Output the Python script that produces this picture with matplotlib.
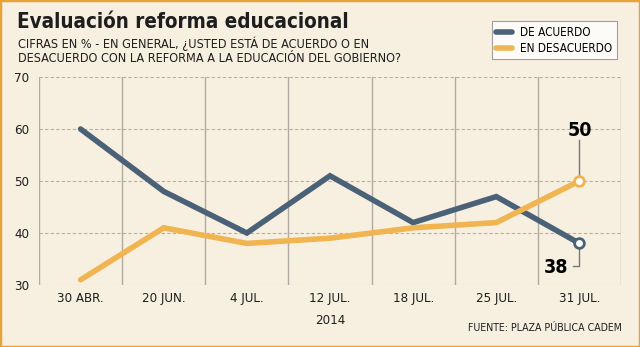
import matplotlib.pyplot as plt
from matplotlib.patches import Rectangle

fechas = ['30 ABR.', '20 JUN.', '4 JUL.', '12 JUL.', '18 JUL.', '25 JUL.', '31 JUL.']
de_acuerdo = [60, 48, 40, 51, 42, 47, 38]
en_desacuerdo = [31, 41, 38, 39, 41, 42, 50]
y_ticks = [30, 40, 50, 60, 70]

BG = '#f7f0e0'
AZUL = '#4a6177'
NARANJA = '#f0b450'
BORDE = '#e8a23a'
TXT = '#1e1e1e'

plt.rcParams['font.family'] = ['DejaVu Sans']
plt.rcParams['font.stretch'] = 'condensed'

fig = plt.figure(figsize=(6.4, 3.47), dpi=100, facecolor=BG)
fig.patches.append(Rectangle((0, 0), 1, 1, transform=fig.transFigure,
                             fill=False, edgecolor=BORDE, lw=2.5))

ax = fig.add_axes([39 / 640, 1 - 285 / 347, 582 / 640, 208 / 347])
ax.set_facecolor(BG)
x = list(range(len(fechas)))

ax.set_xlim(-0.5, len(fechas) - 0.5)
ax.set_ylim(30, 70)
for s in ax.spines.values():
    s.set_visible(False)

# rejilla
for v in y_ticks:
    ax.axhline(v, color='#b5b0a6', lw=0.8, ls=(0, (3, 2)), zorder=1)
for i in range(len(fechas) + 1):
    ax.axvline(i - 0.5, color='#b0aba2', lw=1, zorder=1)

ax.plot(x, de_acuerdo, color=AZUL, lw=4, solid_capstyle='round',
        solid_joinstyle='miter', zorder=3, label='DE ACUERDO')
ax.plot(x, en_desacuerdo, color=NARANJA, lw=4, solid_capstyle='round',
        solid_joinstyle='miter', zorder=3, label='EN DESACUERDO')
ax.plot(x[-1], de_acuerdo[-1], 'o', ms=7, mfc='white', mec=AZUL, mew=2, zorder=4)
ax.plot(x[-1], en_desacuerdo[-1], 'o', ms=7, mfc='white', mec=NARANJA, mew=2, zorder=4)

# etiquetas finales
ax.plot([x[-1], x[-1]], [en_desacuerdo[-1] + 0.8, 57.8], color='#777777', lw=1, zorder=2)
ax.text(x[-1], 59.8, str(en_desacuerdo[-1]), ha='center', va='center',
        fontsize=14, fontweight='bold', color='black')
ax.plot([x[-1], x[-1], x[-1] - 0.08], [de_acuerdo[-1] - 0.8, 33.6, 33.6],
        color='#777777', lw=1, zorder=2)
ax.text(x[-1] - 0.13, 33.4, str(de_acuerdo[-1]), ha='right', va='center',
        fontsize=14, fontweight='bold', color='black')

ax.set_yticks(y_ticks)
ax.set_xticks(x)
ax.set_xticklabels(fechas)
ax.tick_params(length=0, labelsize=9.5, colors=TXT)
ax.tick_params(axis='y', pad=7)
ax.tick_params(axis='x', pad=5)

fig.text(17 / 640, 1 - 22 / 347, 'Evaluación reforma educacional', fontsize=14.8,
         fontweight='bold', va='center', ha='left', color=TXT)
fig.text(18 / 640, 1 - 44 / 347, 'CIFRAS EN % - EN GENERAL, ¿USTED ESTÁ DE ACUERDO O EN',
         fontsize=9.1, va='center', ha='left', color=TXT)
fig.text(18 / 640, 1 - 58 / 347, 'DESACUERDO CON LA REFORMA A LA EDUCACIÓN DEL GOBIERNO?',
         fontsize=9.1, va='center', ha='left', color=TXT)
fig.text(ax.get_position().x0 + ax.get_position().width * 3.5 / 7, 1 - 321 / 347, '2014',
         fontsize=9.5, ha='center', va='center', color=TXT)
fig.text(622 / 640, 1 - 328 / 347, 'FUENTE: PLAZA PÚBLICA CADEM',
         fontsize=7.6, ha='right', va='center', color=TXT)

leg = fig.legend(loc='upper right', bbox_to_anchor=(617 / 640, 1 - 21 / 347),
                 borderaxespad=0, frameon=True, fancybox=False, fontsize=8.5,
                 handlelength=1.3, borderpad=0.4, labelspacing=0.25,
                 handletextpad=0.7)
leg.get_frame().set_facecolor('white')
leg.get_frame().set_edgecolor('#888888')
leg.get_frame().set_linewidth(0.8)
for h in leg.get_lines():
    h.set_linewidth(4)

fig.savefig('out.png', dpi=100, facecolor=BG)
